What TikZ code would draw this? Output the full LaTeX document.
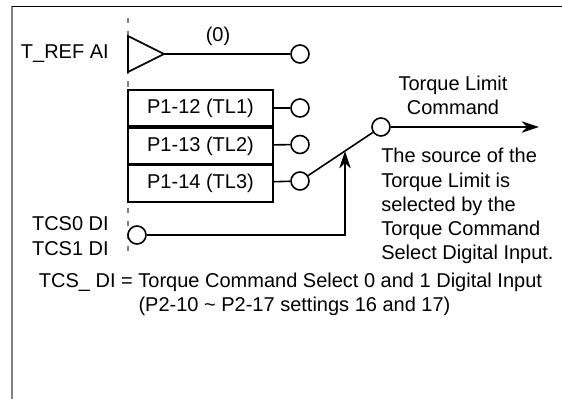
\documentclass[tikz,border=0pt]{standalone}
\usepackage{fontspec}
\setmainfont{Liberation Sans}
\usepackage{tikz}
\usetikzlibrary{arrows.meta,positioning}

\begin{document}
\begin{tikzpicture}[
  x=0.75pt, y=-0.75pt,
  node distance=0pt,
  label/.style={font=\fontsize{15}{18.2}\selectfont, inner sep=0pt},
  limbox/.style={draw, line width=1.2pt, minimum width=108.75pt, minimum height=27.2pt,
    inner sep=0pt, font=\fontsize{15}{18}\selectfont},
  contact/.style={draw, circle, line width=1.2pt, minimum size=13.5pt, inner sep=0pt, fill=white},
  wire/.style={line width=1.2pt},
  arrow/.style={-{Stealth[length=13pt, width=8.5pt, inset=4pt]}, line width=1.2pt},
]
  \useasboundingbox (0,0) rectangle (562,399);

  % Frame
  \draw[gray, line width=1.2pt] (12,6) -- (12,399);
  \draw[line width=0.7pt] (12,6) -- (562,6);

  % Boundary of the drive
  \draw[gray, line width=1pt, dash pattern=on 4pt off 5.5pt] (128,18) -- (128,253);

  % Analog input
  \node[label, anchor=east] (tref) at (109,54) {T\_REF AI};
  \coordinate (amptip) at (164,54);
  \draw[wire, fill=white] (128,36) -- (amptip) -- (128,72) -- cycle;
  \node[contact] (c0) at (300,54) {};
  \draw[wire] (amptip) -- (c0);
  \node[label] (zero) at (218,36) {(0)};

  % Limit parameters
  \node[limbox] (tl1) at (200.5,108) {P1-12 (TL1)};
  \node[limbox, below=of tl1] (tl2) {P1-13 (TL2)};
  \node[limbox, below=of tl2] (tl3) {P1-14 (TL3)};
  \node[contact] (c1) at (300,108) {};
  \node[contact] (c2) at (300,144.5) {};
  \node[contact] (c3) at (300,181) {};
  \draw[wire] (tl1) -- (c1);
  \draw[wire] (tl2) -- (c2);
  \draw[wire] (tl3) -- (c3);

  % Switch and output
  \node[contact] (cout) at (381,127) {};
  \draw[wire] (c3) -- (cout);
  \coordinate (swpt) at (345,151);
  \coordinate (outend) at (539,127);
  \draw[arrow] (cout) -- (outend);
  \node[label, align=center] (outlabel) at (453,95) {Torque Limit\\Command};
  \node[label, align=left, anchor=north west] (srctext) at (381,148)
    {The source of the\\Torque Limit is\\selected by the\\Torque Command\\Select Digital Input.};

  % Digital input
  \node[label, align=right, anchor=east] (tcs) at (109,236) {TCS0 DI\\TCS1 DI};
  \node[contact] (cin) at (137,235) {};
  \draw[arrow] (cin) -| (swpt);

  % Notes
  \node[label] (note1) at (290.5,282) {TCS\_ DI = Torque Command Select 0 and 1 Digital Input};
  \node[label] (note2) at (294.5,306) {(P2-10 \textasciitilde{} P2-17 settings 16 and 17)};
\end{tikzpicture}
\end{document}
